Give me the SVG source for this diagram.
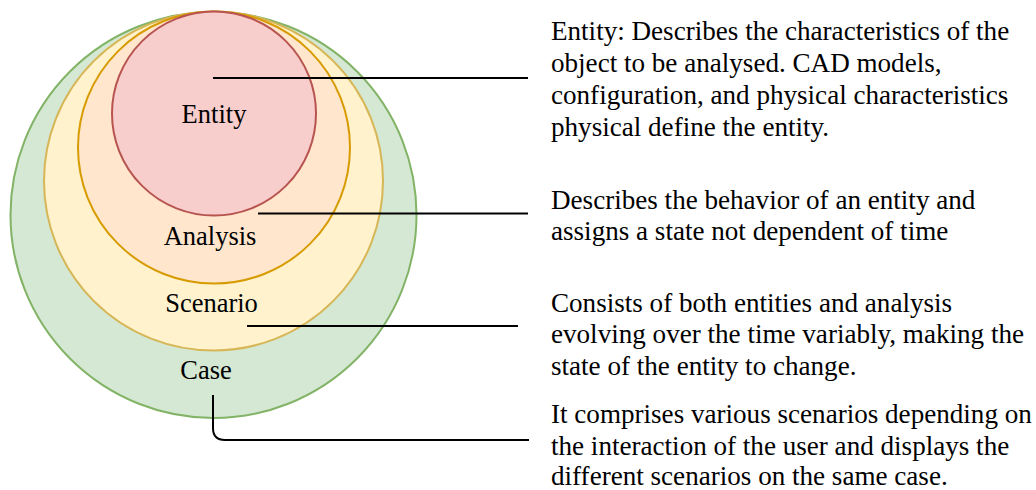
<svg xmlns="http://www.w3.org/2000/svg" width="1036" height="490" viewBox="0 0 1036 490">
<style>
.lbl{font-family:"Liberation Serif","Times New Roman",serif;font-size:26.5px;fill:#000;text-anchor:middle}
.desc{font-family:"Liberation Serif","Times New Roman",serif;font-size:27.1px;fill:#000}
.conn{fill:none;stroke:#000;stroke-width:2}
</style>
<rect width="1036" height="490" fill="#fff"/>
<g id="case"><circle cx="213.5" cy="215" r="203" fill="#d5e8d4" stroke="#82b366" stroke-width="2"/></g>
<g id="scenario"><circle cx="213.5" cy="181" r="169.5" fill="#fff2cc" stroke="#d6b656" stroke-width="2"/></g>
<g id="analysis"><circle cx="214" cy="147.5" r="136" fill="#ffe6cc" stroke="#d79b00" stroke-width="2"/></g>
<g id="entity"><circle cx="214" cy="113.5" r="102" fill="#f8cecc" stroke="#b85450" stroke-width="2"/></g>
<g id="labels">
<text class="lbl" x="214" y="123">Entity</text>
<text class="lbl" x="210" y="245">Analysis</text>
<text class="lbl" x="211.5" y="312">Scenario</text>
<text class="lbl" x="206" y="379">Case</text>
</g>
<g id="connectors">
<path class="conn" d="M213 78H528"/>
<path class="conn" d="M258 213.5H528"/>
<path class="conn" d="M247 326H518"/>
<path class="conn" d="M213 395V428Q213 440 225 440H529"/>
</g>
<g id="desc-entity">
<text class="desc"><tspan x="551" y="40">Entity: Describes the characteristics of the</tspan><tspan x="551" y="72">object to be analysed. CAD models,</tspan><tspan x="551" y="104">configuration, and physical characteristics</tspan><tspan x="551" y="136">physical define the entity.</tspan></text>
</g>
<g id="desc-analysis">
<text class="desc"><tspan x="551" y="209">Describes the behavior of an entity and</tspan><tspan x="551" y="240">assigns a state not dependent of time</tspan></text>
</g>
<g id="desc-scenario">
<text class="desc"><tspan x="551" y="312">Consists of both entities and analysis</tspan><tspan x="551" y="343">evolving over the time variably, making the</tspan><tspan x="551" y="375">state of the entity to change.</tspan></text>
</g>
<g id="desc-case">
<text class="desc"><tspan x="551" y="423">It comprises various scenarios depending on</tspan><tspan x="551" y="455">the interaction of the user and displays the</tspan><tspan x="551" y="485">different scenarios on the same case.</tspan></text>
</g>
</svg>
